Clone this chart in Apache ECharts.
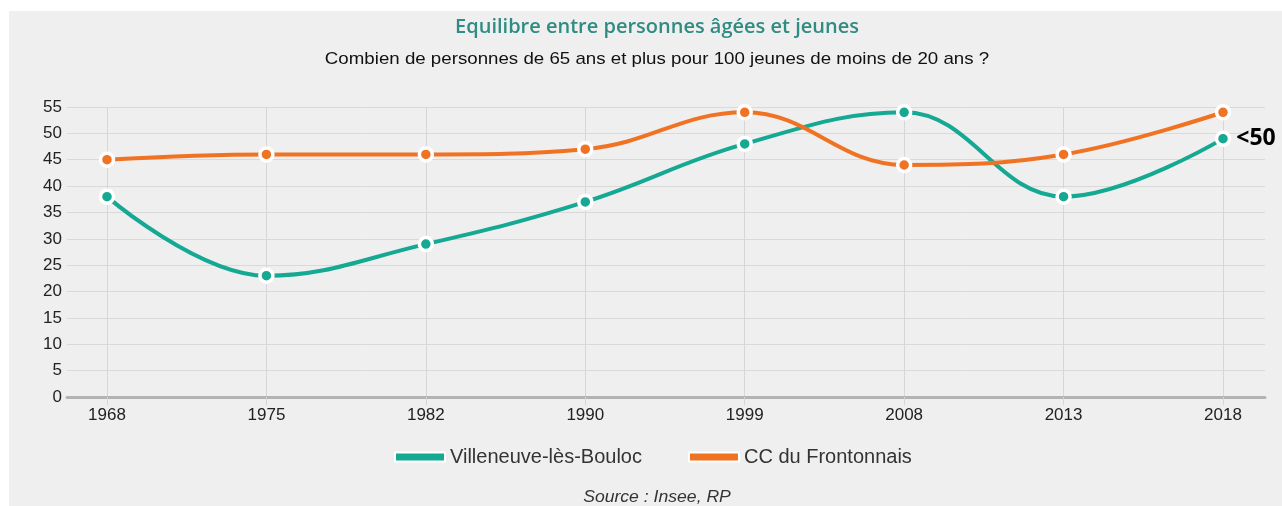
<!DOCTYPE html>
<html>
<head>
<meta charset="utf-8">
<script src="https://cdn.jsdelivr.net/npm/echarts@6/dist/echarts.min.js"></script>
<style>
    html, body { margin: 0; padding: 0; background: #ffffff; }
    #chart { position: absolute; left: 9px; top: 11px; width: 1273px; height: 495px; }
</style>
</head>
<body>
<div id="chart"></div>
<script>
// données
const annees = ['1968', '1975', '1982', '1990', '1999', '2008', '2013', '2018'];
const villeneuve = [38, 23, 29, 37, 48, 54, 38, 49];
const frontonnais = [45, 46, 46, 47, 54, 44, 46, 54];
const nomsSeries = ['Villeneuve-lès-Bouloc', 'CC du Frontonnais'];
const couleurs = ['#15a892', '#f07323'];
const noteDerniere = '<50';

const police = '"Liberation Sans", Arial, sans-serif';

const chart = echarts.init(document.getElementById('chart'));

// dernier point de Villeneuve avec l'annotation
const dataVilleneuve = villeneuve.map((v, i) => {
    if (i !== villeneuve.length - 1) return v;
    return {
        value: v,
        label: {
            show: true,
            position: 'right',
            distance: 5,
            formatter: noteDerniere,
            color: '#000',
            fontFamily: '"Open Sans", sans-serif',
            fontWeight: 'bold',
            fontSize: 23
        }
    };
});

const serie = (nom, data, couleur) => ({
    name: nom,
    type: 'line',
    xAxisIndex: 0,
    yAxisIndex: 0,
    data: data,
    smooth: 0.4,
    symbol: 'circle',
    symbolSize: 13,
    lineStyle: { color: couleur, width: 4 },
    itemStyle: { color: couleur, borderColor: '#ffffff', borderWidth: 3.5 },
    emphasis: { disabled: true },
    z: 3
});

// textes centrés, un peu étirés comme sur l'original
const texte = (contenu, y, font, couleur, etirement) => ({
    type: 'text',
    x: 648,
    y: y,
    scaleX: etirement,
    style: {
        text: contenu,
        x: 0,
        y: 0,
        fill: couleur,
        font: font,
        align: 'center',
        verticalAlign: 'middle',
        textAlign: 'center',
        textVerticalAlign: 'middle'
    }
});

const option = {
    backgroundColor: '#efefef',
    animation: false,
    graphic: [
        texte('Equilibre entre personnes âgées et jeunes', 16, '600 20px "Open Sans", sans-serif', '#2f8c82', 1),
        texte('Combien de personnes de 65 ans et plus pour 100 jeunes de moins de 20 ans ?', 48, '17px ' + police, '#111', 1.1),
        texte('Source : Insee, RP', 487, 'italic 16px ' + police, '#333', 1.1)
    ],
    legend: {
        data: nomsSeries,
        left: 380,
        top: 431,
        icon: 'rect',
        itemWidth: 50,
        itemHeight: 9,
        itemGap: 46,
        textStyle: { color: '#333', fontSize: 20, fontFamily: police },
        selectedMode: false
    },
    grid: [
        { left: 98, right: 59, top: 96, bottom: 109 },
        { left: 58, right: 17, top: 96, bottom: 109 }
    ],
    xAxis: [
        {
            type: 'category',
            gridIndex: 0,
            data: annees,
            boundaryGap: false,
            axisLine: { show: false },
            axisTick: { show: true, length: 8, lineStyle: { color: '#d6d6d6' } },
            axisLabel: { color: '#222', fontSize: 17, fontFamily: police, margin: 10 },
            splitLine: { show: true, lineStyle: { color: '#d6d6d6', width: 1 } }
        },
        {
            type: 'value',
            gridIndex: 1,
            min: 0,
            max: 1,
            axisLine: { show: true, onZero: false, lineStyle: { color: '#b3b3b3', width: 3 } },
            axisTick: { show: false },
            axisLabel: { show: false },
            splitLine: { show: false }
        }
    ],
    yAxis: [
        {
            type: 'value',
            gridIndex: 0,
            min: 0,
            max: 55,
            interval: 5,
            axisLine: { show: false },
            axisTick: { show: false },
            axisLabel: { show: false },
            splitLine: { show: false }
        },
        {
            type: 'value',
            gridIndex: 1,
            min: 0,
            max: 55,
            interval: 5,
            axisLine: { show: false },
            axisTick: { show: false },
            axisLabel: { color: '#222', fontSize: 17, fontFamily: police, margin: 5 },
            splitLine: { show: true, lineStyle: { color: '#d9d9d9', width: 1 } }
        }
    ],
    series: [
        serie(nomsSeries[0], dataVilleneuve, couleurs[0]),
        serie(nomsSeries[1], frontonnais, couleurs[1])
    ]
};

chart.setOption(option);
</script>
</body>
</html>
